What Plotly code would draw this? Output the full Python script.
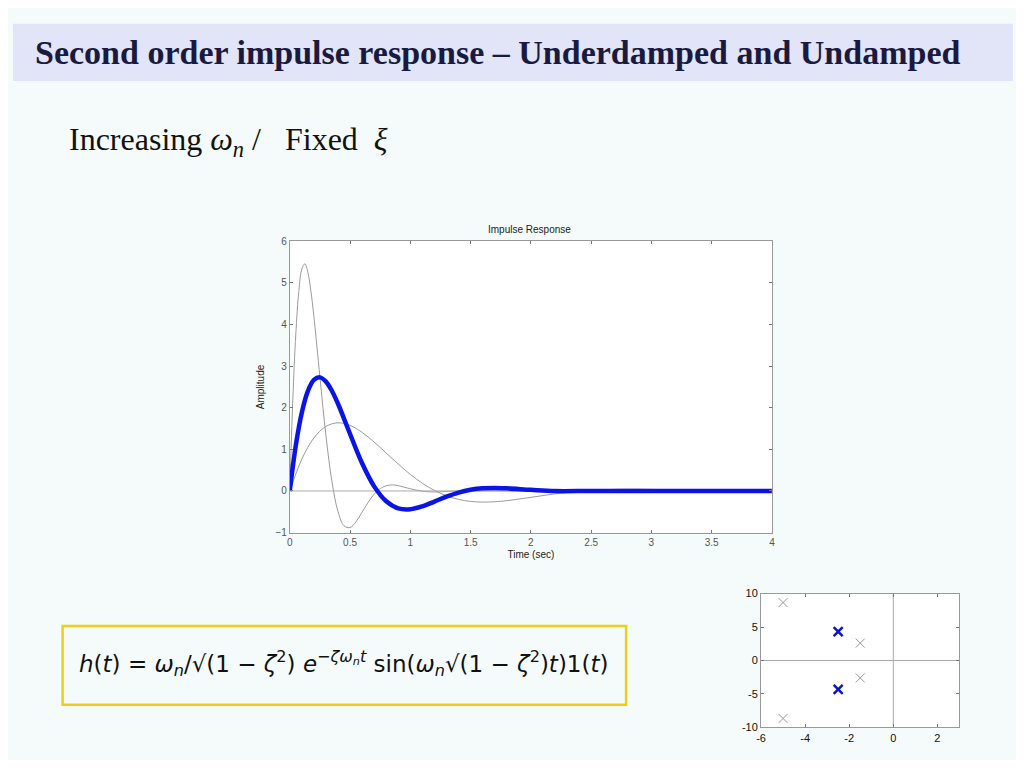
import plotly.graph_objects as go

# wn = 5 (blue, thick)
t_blue = [0,0.05,0.1,0.15,0.2,0.25,0.3,0.35,0.4,0.5,0.6,0.7,0.8,0.9,1.0,1.1,1.2,1.3,1.4,1.5,1.6,1.7,1.8,2.0,2.2,2.5,3.0,3.5,4.0]
h_blue = [0,1.094,1.887,2.400,2.668,2.730,2.628,2.403,2.096,1.369,0.665,0.111,-0.247,-0.418,-0.439,-0.369,-0.254,-0.137,-0.038,0.029,0.064,0.073,0.064,0.027,-0.003,0,0,0,0]
# wn = 3 (gray)
t_slow = [0,0.1,0.2,0.3,0.4,0.5,0.6,0.7,0.8,0.9,1.0,1.1,1.2,1.3,1.4,1.5,1.6,1.7,1.8,2.0,2.2,2.4,2.6,2.8,3.0,3.3,3.6,4.0]
h_slow = [0,0.766,1.274,1.552,1.639,1.576,1.408,1.175,0.912,0.646,0.399,0.186,0.0135,-0.115,-0.2015,-0.251,-0.267,-0.259,-0.233,-0.153,-0.069,-0.0045,0.031,0.044,0.038,0.018,0.001,-0.007]
# wn = 10 (gray)
t_fast = [0,0.025,0.05,0.075,0.1,0.125,0.15,0.175,0.2,0.25,0.3,0.35,0.4,0.45,0.5,0.55,0.6,0.65,0.7,0.75,0.8,0.85,0.9,1.0,1.1,1.2,1.4,2.0,4.0]
h_fast = [0,2.189,3.773,4.801,5.335,5.460,5.255,4.806,4.193,2.738,1.330,0.2215,-0.494,-0.837,-0.879,-0.737,-0.509,-0.274,-0.0766,0.0571,0.127,0.146,0.128,0.053,-0.005,-0.023,0,0,0]

pole_re_blue = [-2.5,-2.5]
pole_im_blue = [4.33,-4.33]
pole_re_gray = [-1.5,-1.5,-5,-5]
pole_im_gray = [2.6,-2.6,8.66,-8.66]

DX, DY = 8, 8
W, H = 1024 - 2 * DX, 768 - 2 * DY
def px(x): return (x - DX) / W
def py(y): return 1 - (y - DY) / H

fig = go.Figure()
for tx, hy in [(t_slow, h_slow), (t_fast, h_fast)]:
    fig.add_trace(go.Scatter(x=tx, y=hy, mode="lines", line=dict(color="#9a9a9a", width=1, shape="spline"), xaxis="x", yaxis="y"))
fig.add_trace(go.Scatter(x=[0,4], y=[0,0], mode="lines", line=dict(color="#aaaaaa", width=1), xaxis="x", yaxis="y"))
fig.add_trace(go.Scatter(x=t_blue, y=h_blue, mode="lines", line=dict(color="#0a14e6", width=4.5, shape="spline"), xaxis="x", yaxis="y"))

fig.add_trace(go.Scatter(x=[-6,3], y=[0,0], mode="lines", line=dict(color="#aaaaaa", width=1), xaxis="x2", yaxis="y2"))
fig.add_trace(go.Scatter(x=[0,0], y=[-10,10], mode="lines", line=dict(color="#aaaaaa", width=1), xaxis="x2", yaxis="y2"))
fig.add_trace(go.Scatter(x=pole_re_gray, y=pole_im_gray, mode="markers", marker=dict(symbol="x-thin", size=9, line=dict(color="#999999", width=1)), xaxis="x2", yaxis="y2"))
fig.add_trace(go.Scatter(x=pole_re_blue, y=pole_im_blue, mode="markers", marker=dict(symbol="x-thin", size=9, line=dict(color="#0a14c8", width=2.5)), xaxis="x2", yaxis="y2"))

ax = dict(showgrid=False, zeroline=False, showline=True, linecolor="#999999", mirror="ticks",
          ticks="inside", ticklen=3, tickcolor="#777777", tickfont=dict(family="Liberation Sans", size=10, color="#555555"))
fig.update_layout(
    width=W, height=H, margin=dict(l=0, r=0, t=0, b=0), showlegend=False,
    paper_bgcolor="#f5fbfa", plot_bgcolor="white",
    xaxis=dict(ax, domain=[px(287), px(773)], range=[0, 4], dtick=0.5, anchor="y",
               title=dict(text="Time (sec)", font=dict(family="Liberation Sans", size=10, color="#222"), standoff=4)),
    yaxis=dict(ax, domain=[py(535), py(239)], range=[-1, 6], dtick=1, anchor="x",
               title=dict(text="Amplitude", font=dict(family="Liberation Sans", size=10, color="#222"), standoff=8)),
    xaxis2=dict(ax, domain=[px(762), px(962)], range=[-6, 3], tickvals=[-6,-4,-2,0,2],
                ticktext=["-6","-4","-2","0","2"], anchor="y2",
                tickfont=dict(family="Liberation Sans", size=11, color="#111")),
    yaxis2=dict(ax, domain=[py(733), py(597)], range=[-10, 10], tickvals=[-10,-5,0,5,10],
                ticktext=["-10","-5","0","5","10"], anchor="x2",
                tickfont=dict(family="Liberation Sans", size=11, color="#111")),
    shapes=[
        dict(type="rect", xref="paper", yref="paper", x0=0, x1=1, y0=py(76), y1=py(18),
             fillcolor="#e2e4f7", line=dict(width=0), layer="below"),
        dict(type="rect", xref="paper", yref="paper", x0=px(58), x1=px(626), y0=py(710), y1=py(630),
             fillcolor="rgba(0,0,0,0)", line=dict(color="#f2cc1a", width=2.5)),
    ],
    annotations=[
        dict(text="<b>Second order impulse response – Underdamped and Undamped</b>", x=px(28), y=py(47),
             xref="paper", yref="paper", xanchor="left", yanchor="middle", showarrow=False,
             font=dict(family="Liberation Serif", size=34, color="#1a1a40")),
        dict(text="Increasing <i>ω<sub>n</sub></i> /   Fixed  <i>ξ</i>", x=px(62), y=py(138),
             xref="paper", yref="paper", xanchor="left", yanchor="middle", showarrow=False,
             font=dict(family="Liberation Serif", size=32, color="#111")),
        dict(text="Impulse Response", x=px(529), y=py(227), xref="paper", yref="paper",
             xanchor="center", yanchor="middle", showarrow=False,
             font=dict(family="Liberation Sans", size=10, color="#222")),
        dict(text="<i>h</i>(<i>t</i>) = <i>ω<sub>n</sub></i>/√(1 − <i>ζ</i><sup>2</sup>) <i>e</i><sup>−<i>ζω<sub>n</sub>t</i></sup> sin(<i>ω<sub>n</sub></i>√(1 − <i>ζ</i><sup>2</sup>)<i>t</i>)1(<i>t</i>)",
             x=px(342), y=py(668), xref="paper", yref="paper", xanchor="center", yanchor="middle",
             showarrow=False, font=dict(family="DejaVu Sans", size=23, color="#111")),
    ],
)
fig.write_html("out.html")
